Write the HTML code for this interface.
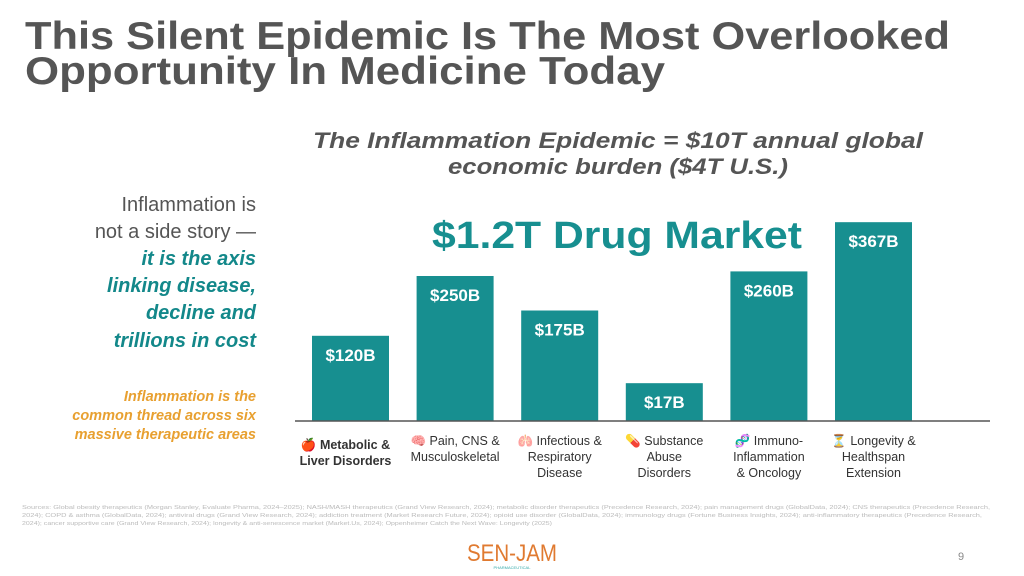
<!DOCTYPE html>
<html><head><meta charset="utf-8"><style>
body{margin:0;background:#fff;}
svg{display:block;font-family:"Liberation Sans",sans-serif;}
</style></head><body>
<svg width="1024" height="576" viewBox="0 0 1024 576">
<g fill="#555" font-weight="bold" font-size="39">
<text x="25" y="49" textLength="925" lengthAdjust="spacingAndGlyphs">This Silent Epidemic Is The Most Overlooked</text>
<text x="25" y="84" textLength="640" lengthAdjust="spacingAndGlyphs">Opportunity In Medicine Today</text>
</g>
<g fill="#555" font-weight="bold" font-style="italic" font-size="22" text-anchor="middle">
<text x="618" y="148" textLength="610" lengthAdjust="spacingAndGlyphs">The Inflammation Epidemic = $10T annual global</text>
<text x="618" y="174" textLength="340" lengthAdjust="spacingAndGlyphs">economic burden ($4T U.S.)</text>
</g>
<text x="617" y="248" fill="#178f90" font-weight="bold" font-size="38" text-anchor="middle" textLength="370" lengthAdjust="spacingAndGlyphs">$1.2T Drug Market</text>
<g text-anchor="end" font-size="20">
<text x="256" y="211" fill="#555">Inflammation is</text>
<text x="256" y="238" fill="#555">not a side story —</text>
<g fill="#13888a" font-weight="bold" font-style="italic">
<text x="256" y="265">it is the axis</text>
<text x="256" y="292">linking disease,</text>
<text x="256" y="319">decline and</text>
<text x="256" y="347">trillions in cost</text>
</g>
</g>
<g text-anchor="end" font-size="14.5" fill="#e8a030" font-weight="bold" font-style="italic">
<text x="256" y="401">Inflammation is the</text>
<text x="256" y="420">common thread across six</text>
<text x="256" y="439">massive therapeutic areas</text>
</g>
<g id="bars"></g>
<line x1="295" y1="421" x2="990" y2="421" stroke="#555" stroke-width="1.5"/>
<g id="cats" font-size="12.5" fill="#333" text-anchor="middle"></g>
<g font-size="5.5" fill="#bbb">
<text x="22" y="509" textLength="968" lengthAdjust="spacingAndGlyphs">Sources: Global obesity therapeutics (Morgan Stanley, Evaluate Pharma, 2024–2025); NASH/MASH therapeutics (Grand View Research, 2024); metabolic disorder therapeutics (Precedence Research, 2024); pain management drugs (GlobalData, 2024); CNS therapeutics (Precedence Research,</text>
<text x="22" y="517" textLength="960" lengthAdjust="spacingAndGlyphs">2024); COPD &amp; asthma (GlobalData, 2024); antiviral drugs (Grand View Research, 2024); addiction treatment (Market Research Future, 2024); opioid use disorder (GlobalData, 2024); immunology drugs (Fortune Business Insights, 2024); anti-inflammatory therapeutics (Precedence Research,</text>
<text x="22" y="525" textLength="530" lengthAdjust="spacingAndGlyphs">2024); cancer supportive care (Grand View Research, 2024); longevity &amp; anti-senescence market (Market.Us, 2024); Oppenheimer Catch the Next Wave: Longevity (2025)</text>
</g>
<text x="512" y="561" font-size="24" fill="#e07a30" text-anchor="middle" textLength="90" lengthAdjust="spacingAndGlyphs">SEN-JAM</text>
<text x="512" y="569" font-size="4" fill="#3aa" text-anchor="middle">PHARMACEUTICAL</text>
<text x="958" y="560" font-size="11" fill="#888">9</text>
</svg>
<script>
const categories=[["🍎 Metabolic &","Liver Disorders"],["🧠 Pain, CNS &","Musculoskeletal"],["🫁 Infectious &","Respiratory","Disease"],["💊 Substance","Abuse","Disorders"],["🧬 Immuno-","Inflammation","& Oncology"],["⏳ Longevity &","Healthspan","Extension"]];
const values=[120,250,175,17,260,367];
const valueLabels=["$120B","$250B","$175B","$17B","$260B","$367B"];
const NS="http://www.w3.org/2000/svg";
const baseY=421;
function yScale(v){return baseY-(30+0.46*v);}
function xScale(i){return 312+i*104.6;}
const bw=77;
const gb=document.getElementById('bars');
values.forEach((v,i)=>{
 const r=document.createElementNS(NS,'rect');
 
 
 const y=yScale(v);
 r.setAttribute('x',xScale(i));r.setAttribute('y',y);r.setAttribute('width',bw);r.setAttribute('height',baseY-y);r.setAttribute('fill','#178f90');
 gb.appendChild(r);
 const t=document.createElementNS(NS,'text');
 
 
 t.setAttribute('x',xScale(i)+bw/2);t.setAttribute('y',y+25);t.setAttribute('fill','#fff');t.setAttribute('font-weight','bold');t.setAttribute('font-size','17');t.setAttribute('text-anchor','middle');
 t.textContent=valueLabels[i];gb.appendChild(t);
});
const gc=document.getElementById('cats');
categories.forEach((lines,i)=>{
 lines.forEach((s,j)=>{
  const t=document.createElementNS(NS,'text');
  
  
  t.setAttribute('x',xScale(i)+bw/2-(i==0?5:0));t.setAttribute('y',(i==0?449:445)+j*16);
  if(i==0)t.setAttribute('font-weight','bold');
  t.textContent=s;gc.appendChild(t);
 });
});
</script>
</body></html>
